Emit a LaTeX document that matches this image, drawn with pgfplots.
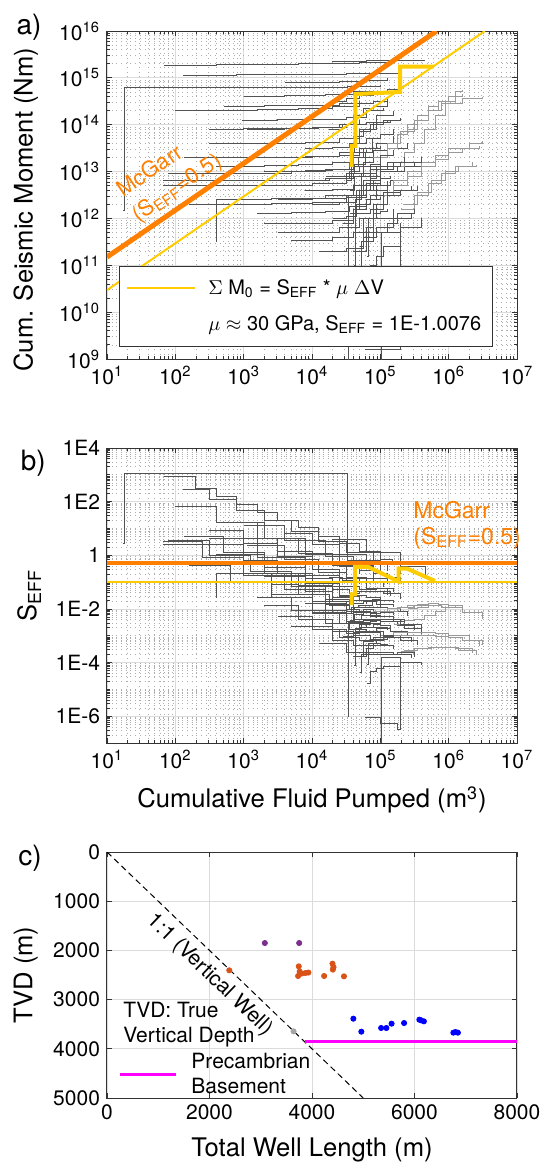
\documentclass[border=0pt]{standalone}
\usepackage{fontspec}
\setmainfont{TeX Gyre Heros}
\usepackage{pgfplots}
\usepackage{pgfplotstable}
\pgfplotsset{compat=1.18}

\definecolor{mcg}{RGB}{255,128,0}
\definecolor{yel}{RGB}{255,204,0}
\definecolor{mpurple}{RGB}{126,47,142}
\definecolor{morange}{RGB}{217,83,25}
\definecolor{mgray}{RGB}{165,165,165}
\definecolor{mmag}{RGB}{255,0,255}
\definecolor{mblue}{RGB}{0,0,255}

% ---- wells: V = cumulative volume (m3), M = cum. seismic moment (Nm), S = S_EFF
\pgfplotstableread{
V M S
17.4 1.51e12 2.88
18.2 6.31e14 1150
3.31e4 6.46e14 0.646
1e5 7.08e14 0.234
}\wA
\pgfplotstableread{
V M S
69.2 1.86e15 891
200 1.86e15 309
398 1.91e15 158
794 1.91e15 79.4
1585 1.95e15 40.7
3162 1.95e15 20.4
6310 2.0e15 10.5
1.26e4 2.0e15 5.25
2.51e4 2.04e15 2.69
5.01e4 2.09e15 1.38
1e5 2.14e15 0.708
1.51e5 2.19e15 0.479
}\wB
\pgfplotstableread{
V M S
129 1.15e15 295
316 1.15e15 120
794 1.17e15 49.0
2000 1.17e15 19.5
5010 1.20e15 7.94
1.26e4 1.20e15 3.16
3.16e4 1.23e15 1.29
7.94e4 1.26e15 0.525
2.0e5 1.26e15 0.209
}\wC
\pgfplotstableread{
V M S
1.95e4 2.29e15 3.89
6.31e4 2.34e15 1.23
2.0e5 2.40e15 0.398
4.57e5 2.40e15 0.174
}\wD
\pgfplotstableread{
V M S
513 2.51e14 16.2
2000 2.57e14 4.27
7940 2.63e14 1.10
2.51e4 2.82e14 0.372
7.94e4 3.16e14 0.132
1.26e5 3.98e14 0.105
}\wE
\pgfplotstableread{
V M S
955 1.26e14 4.37
3162 1.29e14 1.35
1e4 1.32e14 0.437
3.16e4 1.41e14 0.148
6.31e4 2.0e14 0.105
1.12e5 2.24e14 0.0661
}\wF
\pgfplotstableread{
V M S
135 2.0e13 4.90
501 2.0e13 1.32
2000 2.04e13 0.339
7940 2.09e13 0.0871
2.51e4 2.24e13 0.0295
5.01e4 3.16e13 0.0209
1e5 3.55e13 0.0117
}\wG
\pgfplotstableread{
V M S
66.1 6.31e12 3.16
251 6.31e12 0.832
1000 6.46e12 0.214
3980 6.61e12 0.0550
1.58e4 7.08e12 0.0148
3.98e4 8.91e12 7.41e-3
8.91e4 1.26e13 4.68e-3
}\wH
\pgfplotstableread{
V M S
66.1 5.01e12 2.51
1000 5.13e12 0.170
1e4 5.62e12 0.0186
3.16e4 7.94e12 8.32e-3
7.08e4 1.12e13 5.25e-3
1.58e5 1.58e13 3.31e-3
}\wI
\pgfplotstableread{
V M S
389 3.16e11 0.0269
398 2.51e12 0.209
2510 2.63e12 0.0347
1.58e4 3.16e12 6.61e-3
3.98e4 5.01e12 4.17e-3
1e5 7.94e12 2.63e-3
}\wJ
\pgfplotstableread{
V M S
3162 4.90e11 5.13e-3
1e4 5.01e11 1.66e-3
2.51e4 6.31e11 8.32e-4
5.01e4 1e12 6.61e-4
7.94e4 2.0e12 8.32e-4
1.26e5 3.98e12 1.05e-3
}\wK
\pgfplotstableread{
V M S
5010 3.47e11 2.29e-3
2.0e4 3.98e11 6.61e-4
3.98e4 5.01e11 4.17e-4
7.94e4 1e12 4.17e-4
1.58e5 1.58e12 3.31e-4
}\wL
\pgfplotstableread{
V M S
5.89e4 1.62e9 9.12e-7
1e5 1.62e9 5.37e-7
1.76e5 1.62e9 3.09e-7
2.0e5 7.94e11 1.32e-4
}\wM
\pgfplotstableread{
V M S
1e5 3.16e8 1.05e-7
1.05e5 5.01e11 1.58e-4
2.0e5 6.31e11 1.05e-4
3.98e5 1e12 8.32e-5
}\wN
\pgfplotstableread{
V M S
3.55e4 3.98e12 3.72e-3
4.17e4 7.94e12 6.31e-3
5.62e4 1.58e13 9.33e-3
7.94e4 2.0e13 8.32e-3
1.26e5 3.98e13 0.0105
2.0e5 5.01e13 8.32e-3
}\wO
\pgfplotstableread{
V M S
1e4 2.0e12 6.61e-3
2.51e4 2.24e12 2.95e-3
4.47e4 3.98e12 2.95e-3
6.31e4 5.62e12 2.95e-3
1e5 1e13 3.31e-3
1.78e5 1.26e13 2.34e-3
3.16e5 1.58e13 1.66e-3
}\wP
\pgfplotstableread{
V M S
2000 1e13 0.166
7940 1.05e13 0.0437
2.0e4 1.12e13 0.0186
3.98e4 2.0e13 0.0166
5.62e4 3.16e13 0.0186
8.91e4 3.98e13 0.0148
1.58e5 5.62e13 0.0117
}\wQ
\pgfplotstableread{
V M S
2.82e4 7.94e11 9.33e-4
3.98e4 1.58e12 1.32e-3
6.31e4 2.51e12 1.32e-3
8.91e4 5.01e12 1.86e-3
1.41e5 6.31e12 1.48e-3
2.51e5 7.94e12 1.05e-3
}\wR
\pgfplotstableread{
V M S
7940 3.16e13 0.132
2.0e4 3.31e13 0.0550
3.55e4 3.98e13 0.0372
5.01e4 7.08e13 0.0468
7.08e4 1e14 0.0468
1.12e5 1.26e14 0.0372
2.0e5 1.41e14 0.0234
}\wS
\pgfplotstableread{
V M S
5.01e4 2.51e11 1.66e-4
5.62e4 1e12 5.89e-4
7.94e4 1.58e12 6.61e-4
1.12e5 3.16e12 9.33e-4
1.58e5 3.98e12 8.32e-4
2.82e5 5.01e12 5.89e-4
}\wT
\pgfplotstableread{
V M S
1.58e4 7.94e12 0.0166
3.16e4 8.91e12 9.33e-3
4.17e4 1.41e13 0.0112
6.03e4 2.0e13 0.0110
7.94e4 2.82e13 0.0117
1.26e5 3.16e13 8.32e-3
2.51e5 3.98e13 5.25e-3
}\wU
\pgfplotstableread{
V M S
398 1.26e13 1.05
2000 1.32e13 0.219
6310 1.41e13 0.0741
2.0e4 1.58e13 0.0263
3.98e4 2.51e13 0.0209
6.31e4 2.82e13 0.0148
}\wV
\pgfplotstableread{
V M S
79.4 8.91e12 3.72
316 9.12e12 0.955
1260 9.33e12 0.245
5010 1e13 0.0661
1.58e4 1.12e13 0.0234
3.55e4 1.58e13 0.0148
}\wW
\pgfplotstableread{
V M S
1120 7.94e13 2.34
3980 8.32e13 0.692
1.26e4 8.91e13 0.234
3.16e4 1e14 0.105
6.31e4 1.12e14 0.0589
1.26e5 1.26e14 0.0331
}\wX
\pgfplotstableread{
V M S
3162 2.51e12 0.0263
1e4 2.63e12 8.71e-3
3.16e4 3.16e12 3.31e-3
5.62e4 6.31e12 3.72e-3
1e5 1e13 3.31e-3
2.24e5 1.26e13 1.86e-3
3.98e5 1.41e13 1.17e-3
}\wY
\pgfplotstableread{
V M S
1.58e5 1.26e13 2.63e-3
2.24e5 2.51e13 3.72e-3
3.16e5 3.98e13 4.17e-3
4.47e5 7.94e13 5.89e-3
6.31e5 1.58e14 8.32e-3
8.91e5 3.16e14 0.0117
1.26e6 5.01e14 0.0132
1.58e6 5.62e14 0.0117
}\wZ
\pgfplotstableread{
V M S
1e5 3.16e12 1.05e-3
1.58e5 6.31e12 1.32e-3
2.51e5 1e13 1.32e-3
3.98e5 1.58e13 1.32e-3
6.31e5 2.24e13 1.17e-3
1e6 3.16e13 1.05e-3
2.0e6 3.98e13 6.61e-4
3.16e6 4.47e13 4.68e-4
}\wAA
\pgfplotstableread{
V M S
7.94e4 2.0e13 8.32e-3
1.26e5 3.98e13 0.0105
2.0e5 7.08e13 0.0117
3.16e5 1.26e14 0.0132
5.01e5 2.0e14 0.0132
7.94e5 2.82e14 0.0117
1.58e6 3.55e14 7.41e-3
3.16e6 3.98e14 4.17e-3
}\wAB
\pgfplotstableread{
V M S
2.0e5 1.58e12 2.63e-4
3.16e5 3.16e12 3.31e-4
5.01e5 5.62e12 3.72e-4
7.94e5 8.91e12 3.72e-4
1.26e6 1.26e13 3.31e-4
2.24e6 1.58e13 2.34e-4
}\wAC
\pgfplotstableread{
V M S
2.0e4 1e12 1.66e-3
3.16e4 1.12e12 1.17e-3
4.47e4 2.0e12 1.48e-3
7.08e4 3.16e12 1.48e-3
1.12e5 3.55e12 1.05e-3
2.0e5 3.98e12 6.61e-4
}\wAD
\pgfplotstableread{
V M S
1000 3.98e14 13.2
3980 4.17e14 3.47
1.58e4 4.47e14 0.933
3.98e4 5.01e14 0.417
7.94e4 5.25e14 0.219
}\wAE
\pgfplotstableread{
V M S
2510 6.31e12 0.0832
6310 6.61e12 0.0347
1.78e4 7.08e12 0.0132
3.55e4 1e13 9.33e-3
5.01e4 1.26e13 8.32e-3
7.08e4 1.26e13 5.89e-3
1e5 1.58e13 5.25e-3
}\wAF
\pgfplotstableread{
V M S
3.98e4 2.0e11 1.66e-4
6.31e4 6.31e11 3.31e-4
7.94e4 1.26e12 5.25e-4
1e5 1.41e12 4.68e-4
1.26e5 1.58e12 4.17e-4
}\wAG
\pgfplotstableread{
V M S
316 7.94e13 8.32
1000 8.13e13 2.69
3162 8.32e13 0.871
1e4 8.91e13 0.295
2.51e4 1e14 0.132
5.01e4 1.26e14 0.0832
}\wAH
\pgfplotstableread{
V M S
3.31e4 1e9 1.0e-6
3.39e4 3.16e12 3.09e-3
6.31e4 3.98e12 2.09e-3
1.26e5 6.31e12 1.66e-3
}\wAI
\pgfplotstableread{
V M S
2.51e4 5.01e13 0.0661
3.98e4 5.62e13 0.0468
5.62e4 7.94e13 0.0468
7.94e4 1.12e14 0.0468
1.41e5 1.26e14 0.0295
}\wAJ
\pgfplotstableread{
V M S
4.47e4 1.58e12 1.17e-3
5.01e4 3.98e12 2.63e-3
7.08e4 7.94e12 3.72e-3
1e5 1.26e13 4.17e-3
2.0e5 1.58e13 2.63e-3
3.98e5 2.0e13 1.66e-3
}\wAK
\pgfplotstableread{
V M S
1585 1.26e12 0.0263
5010 1.32e12 8.71e-3
1.58e4 1.41e12 2.95e-3
3.55e4 1.78e12 1.66e-3
6.31e4 2.51e12 1.32e-3
1e5 2.82e12 9.33e-4
}\wAL
\pgfplotstableread{
V M S
316 3.98e13 4.17
1585 3.98e13 0.832
7940 4.17e13 0.174
2.51e4 5.01e13 0.0661
5.01e4 7.94e13 0.0525
8.91e4 1.58e14 0.0589
1.58e5 2.0e14 0.0417
}\wAM
\pgfplotstableread{
V M S
158 2.0e12 0.417
631 2.0e12 0.105
2510 2.09e12 0.0275
1e4 2.24e12 7.41e-3
3.16e4 2.82e12 2.95e-3
6.31e4 3.98e12 2.09e-3
}\wAN
\pgfplotstableread{
V M S
3980 7.94e14 6.61
1e4 7.94e14 2.63
2.51e4 8.32e14 1.10
6.31e4 8.91e14 0.468
1.26e5 1e15 0.263
}\wAO
\pgfplotstableread{
V M S
1.78e4 7.94e13 0.148
2.82e4 1e14 0.117
3.98e4 1.58e14 0.132
5.62e4 2.24e14 0.132
7.94e4 2.51e14 0.105
1.26e5 3.16e14 0.0832
}\wAP
\pgfplotstableread{
V M S
3.16e4 6.31e12 6.61e-3
3.80e4 1.26e13 0.0110
4.79e4 2.0e13 0.0138
6.03e4 2.51e13 0.0138
7.59e4 5.01e13 0.0219
1e5 6.31e13 0.0209
1.58e5 7.94e13 0.0166
}\wAQ
\pgfplotstableread{
V M S
4.17e4 1e11 7.94e-5
4.27e4 2.51e12 1.95e-3
5.25e4 5.01e12 3.16e-3
7.08e4 7.08e12 3.31e-3
8.91e4 1.12e13 4.17e-3
1.26e5 1.58e13 4.17e-3
2.24e5 2.0e13 2.95e-3
}\wAR
\pgfplotstableread{
V M S
6.31e4 1.58e11 8.32e-5
6.61e4 1e12 5.01e-4
8.91e4 2.0e12 7.41e-4
1.26e5 3.16e12 8.32e-4
2.0e5 3.98e12 6.61e-4
3.55e5 5.01e12 4.68e-4
}\wAS
\pgfplotstableread{
V M S
1.26e5 3.16e13 8.32e-3
1.78e5 6.31e13 0.0117
2.51e5 1e14 0.0132
3.55e5 1.58e14 0.0148
5.01e5 2.51e14 0.0166
7.08e5 3.16e14 0.0148
1e6 3.55e14 0.0117
}\wAT
\pgfplotstableread{
V M S
1.58e5 5.01e12 1.05e-3
2.51e5 7.94e12 1.05e-3
3.98e5 1.26e13 1.05e-3
6.31e5 1.78e13 9.33e-4
1e6 2.51e13 8.32e-4
1.58e6 3.16e13 6.61e-4
2.82e6 3.55e13 4.17e-4
}\wAU
\pgfplotstableread{
V M S
1000 2.0e13 0.661
3162 2.0e13 0.209
1e4 2.09e13 0.0692
2.51e4 2.51e13 0.0331
4.17e4 3.98e13 0.0316
6.31e4 5.01e13 0.0263
1e5 5.62e13 0.0186
}\wAV
\pgfplotstableread{
V M S
3.55e4 1.26e12 1.17e-3
4.47e4 2.0e12 1.48e-3
5.01e4 3.16e12 2.09e-3
6.31e4 3.98e12 2.09e-3
7.94e4 6.31e12 2.63e-3
1e5 7.08e12 2.34e-3
1.41e5 7.94e12 1.86e-3
}\wAW
\pgfplotstableread{
V M S
100 2.0e14 66.1
398 2.0e14 16.6
1585 2.09e14 4.37
6310 2.24e14 1.17
2.0e4 2.51e14 0.417
5.01e4 3.16e14 0.209
}\wAX
\pgfplotstableread{
V M S
7940 3.98e12 0.0166
2.0e4 4.17e12 6.92e-3
3.98e4 5.01e12 4.17e-3
5.25e4 8.91e12 5.62e-3
7.08e4 1.41e13 6.61e-3
1e5 2.24e13 7.41e-3
1.58e5 2.82e13 5.89e-3
}\wAY
\pgfplotstableread{
V M S
5.01e4 6.31e10 4.17e-5
5.25e4 3.16e11 2.0e-4
7.94e4 5.01e11 2.09e-4
1.26e5 7.94e11 2.09e-4
1.78e5 1.26e12 2.34e-4
3.16e5 1.58e12 1.66e-4
}\wAZ
\pgfplotstableread{
V M S
2.24e5 2.0e12 2.95e-4
3.55e5 3.55e12 3.31e-4
5.62e5 6.31e12 3.72e-4
8.91e5 1e13 3.72e-4
1.41e6 1.26e13 2.95e-4
2.51e6 1.41e13 1.86e-4
}\wBA
\pgfplotstableread{
V M S
2.0e4 3.16e14 0.525
3.16e4 3.55e14 0.372
5.01e4 4.17e14 0.275
7.94e4 5.01e14 0.209
1.26e5 5.62e14 0.148
2.0e5 6.31e14 0.105
}\wBB
\pgfplotstableread{
V M S
2000 7.94e11 0.0132
6310 7.94e11 4.17e-3
2.0e4 8.91e11 1.48e-3
3.98e4 1.26e12 1.05e-3
7.08e4 1.58e12 7.41e-4
1.12e5 2.24e12 6.61e-4
}\wBC
\pgfplotstableread{
V M S
2.51e5 7.94e13 0.0105
3.55e5 1.26e14 0.0117
5.01e5 2.0e14 0.0132
7.08e5 3.16e14 0.0148
1e6 3.98e14 0.0132
1.58e6 4.47e14 9.33e-3
}\wBD
\pgfplotstableread{
V M S
1.26e4 2.0e11 5.25e-4
3.16e4 2.24e11 2.34e-4
5.62e4 3.98e11 2.34e-4
8.91e4 6.31e11 2.34e-4
1.58e5 1e12 2.09e-4
2.82e5 1.26e12 1.48e-4
}\wBE
\pgfplotstableread{
V M S
6.31e4 3.16e10 1.66e-5
7.08e4 1e11 4.68e-5
8.91e4 1.58e11 5.89e-5
1.12e5 2.51e11 7.41e-5
2.0e5 3.16e11 5.25e-5
}\wBF

\pgfplotsset{
  base/.style={scale only axis, width=205pt, anchor=north west,
    axis line style={black!80, line width=0.5pt},
    every tick/.style={black!80, line width=0.4pt},
    tick align=inside, major tick length=2.6pt, minor tick length=1.4pt,
    xmajorgrids, ymajorgrids,
    major grid style={black!14, line width=0.4pt},
    minor grid style={black!32, line width=0.35pt, dotted},
    ticklabel style={font=\fontsize{10.5}{12}\selectfont},
    label style={font=\fontsize{12.8}{15}\selectfont},
    clip mode=individual},
  well/.style={const plot, black!68, line width=0.45pt, forget plot},
  wellL/.style={const plot, black!40, line width=0.45pt, forget plot},
  vticks/.style={xminorgrids,
    xtick={10,100,1000,1e4,1e5,1e6,1e7},
    xticklabels={10\textsuperscript{1},10\textsuperscript{2},10\textsuperscript{3},10\textsuperscript{4},10\textsuperscript{5},10\textsuperscript{6},10\textsuperscript{7}},
    minor xtick={20,30,40,50,60,70,80,90,200,300,400,500,600,700,800,900,2000,3000,4000,5000,6000,7000,8000,9000,2e4,3e4,4e4,5e4,6e4,7e4,8e4,9e4,2e5,3e5,4e5,5e5,6e5,7e5,8e5,9e5,2e6,3e6,4e6,5e6,6e6,7e6,8e6,9e6}},
}

\newcommand{\wells}[1]{%
\addplot[well] table[x=V,y=#1]{\wA};
\addplot[well] table[x=V,y=#1]{\wB};
\addplot[well] table[x=V,y=#1]{\wC};
\addplot[well] table[x=V,y=#1]{\wD};
\addplot[well] table[x=V,y=#1]{\wE};
\addplot[well] table[x=V,y=#1]{\wF};
\addplot[well] table[x=V,y=#1]{\wG};
\addplot[well] table[x=V,y=#1]{\wH};
\addplot[well] table[x=V,y=#1]{\wI};
\addplot[well] table[x=V,y=#1]{\wJ};
\addplot[well] table[x=V,y=#1]{\wK};
\addplot[well] table[x=V,y=#1]{\wL};
\addplot[well] table[x=V,y=#1]{\wM};
\addplot[well] table[x=V,y=#1]{\wN};
\addplot[well] table[x=V,y=#1]{\wO};
\addplot[well] table[x=V,y=#1]{\wP};
\addplot[well] table[x=V,y=#1]{\wQ};
\addplot[well] table[x=V,y=#1]{\wR};
\addplot[well] table[x=V,y=#1]{\wS};
\addplot[well] table[x=V,y=#1]{\wT};
\addplot[well] table[x=V,y=#1]{\wU};
\addplot[well] table[x=V,y=#1]{\wV};
\addplot[well] table[x=V,y=#1]{\wW};
\addplot[well] table[x=V,y=#1]{\wX};
\addplot[well] table[x=V,y=#1]{\wY};
\addplot[wellL] table[x=V,y=#1]{\wZ};
\addplot[wellL] table[x=V,y=#1]{\wAA};
\addplot[wellL] table[x=V,y=#1]{\wAB};
\addplot[wellL] table[x=V,y=#1]{\wAC};
\addplot[well] table[x=V,y=#1]{\wAD};
\addplot[well] table[x=V,y=#1]{\wAE};
\addplot[well] table[x=V,y=#1]{\wAF};
\addplot[well] table[x=V,y=#1]{\wAG};
\addplot[well] table[x=V,y=#1]{\wAH};
\addplot[well] table[x=V,y=#1]{\wAI};
\addplot[well] table[x=V,y=#1]{\wAJ};
\addplot[well] table[x=V,y=#1]{\wAK};
\addplot[well] table[x=V,y=#1]{\wAL};
\addplot[well] table[x=V,y=#1]{\wAM};
\addplot[well] table[x=V,y=#1]{\wAN};
\addplot[well] table[x=V,y=#1]{\wAO};
\addplot[well] table[x=V,y=#1]{\wAP};
\addplot[well] table[x=V,y=#1]{\wAQ};
\addplot[well] table[x=V,y=#1]{\wAR};
\addplot[well] table[x=V,y=#1]{\wAS};
\addplot[wellL] table[x=V,y=#1]{\wAT};
\addplot[wellL] table[x=V,y=#1]{\wAU};
\addplot[well] table[x=V,y=#1]{\wAV};
\addplot[well] table[x=V,y=#1]{\wAW};
\addplot[well] table[x=V,y=#1]{\wAX};
\addplot[well] table[x=V,y=#1]{\wAY};
\addplot[well] table[x=V,y=#1]{\wAZ};
\addplot[wellL] table[x=V,y=#1]{\wBA};
\addplot[well] table[x=V,y=#1]{\wBB};
\addplot[well] table[x=V,y=#1]{\wBC};
\addplot[wellL] table[x=V,y=#1]{\wBD};
\addplot[well] table[x=V,y=#1]{\wBE};
\addplot[well] table[x=V,y=#1]{\wBF};
}

\begin{document}
\begin{tikzpicture}
\useasboundingbox (0,0) rectangle (272.5pt,-582pt);

% ================= a)
\begin{axis}[xmode=log, ymode=log, base, vticks, at={(53.5pt,-15.5pt)}, height=164pt,
  xmin=10, xmax=1e7, ymin=1e9, ymax=1e16, yminorgrids,
  ytick={1e9,1e10,1e11,1e12,1e13,1e14,1e15,1e16},
  yticklabels={10\textsuperscript{9},10\textsuperscript{10},10\textsuperscript{11},10\textsuperscript{12},10\textsuperscript{13},10\textsuperscript{14},10\textsuperscript{15},10\textsuperscript{16}},
  minor ytick={2e9,3e9,4e9,5e9,6e9,7e9,8e9,9e9,2e10,3e10,4e10,5e10,6e10,7e10,8e10,9e10,2e11,3e11,4e11,5e11,6e11,7e11,8e11,9e11,2e12,3e12,4e12,5e12,6e12,7e12,8e12,9e12,2e13,3e13,4e13,5e13,6e13,7e13,8e13,9e13,2e14,3e14,4e14,5e14,6e14,7e14,8e14,9e14,2e15,3e15,4e15,5e15,6e15,7e15,8e15,9e15},
  ylabel={Cum. Seismic Moment (Nm)},
  ylabel style={at={(axis description cs:-0.198,0.455)}, anchor=center},
  legend style={at={(0.029,0.2835)}, anchor=north west, draw=black!80, fill=white,
    inner xsep=3.5pt, inner ysep=4.5pt, row sep=5pt, column sep=4pt,
    font=\fontsize{10}{12}\selectfont, cells={anchor=west}},
  legend image code/.code={\draw[#1] (0pt,0pt)--(34pt,0pt);},
]
\wells{M}
% McGarr (S_EFF = 0.5, mu = 30 GPa)
\addplot[mcg, line width=2.5pt, forget plot] coordinates {(10,1.5e11) (6.67e5,1e16)};
% fitted S_EFF = 10^-1.0076
\addplot[yel, line width=1pt] coordinates {(10,2.95e10) (3.39e6,1e16)};
\addlegendentry{$\Sigma$ M\textsubscript{0} = S\textsubscript{EFF} * $\mu$ $\Delta$V}
\addlegendimage{empty legend}
\addlegendentry{$\mu\approx$ 30 GPa, S\textsubscript{EFF} = 1E-1.0076}
% highlighted well
\addplot[yel, line width=2pt, forget plot] coordinates {(3.8e4,1.26e13) (3.8e4,3.5e13) (4.3e4,3.5e13) (4.3e4,4.5e14) (1.95e5,5.0e14) (1.95e5,1.74e15) (6.0e5,1.74e15)};
\node[mcg, rotate=34.4, font=\fontsize{11}{13}\selectfont] at (axis cs:41.7,1.07e13) {McGarr};
\node[mcg, rotate=34.4, font=\fontsize{11}{13}\selectfont] at (axis cs:107,4.37e12) {(S\textsubscript{EFF}=0.5)};
\node[font=\fontsize{14}{16}\selectfont] at (axis description cs:-0.19,1.012) {a)};
\end{axis}

% ================= b)
\begin{axis}[xmode=log, ymode=log, base, vticks, at={(53.5pt,-224pt)}, height=147.5pt,
  xmin=10, xmax=1e7, ymin=1e-7, ymax=1e4, yminorgrids,
  ytick={1e-6,1e-4,1e-2,1,1e2,1e4},
  yticklabels={1E-6,1E-4,1E-2,1,1E2,1E4},
  minor ytick={2e-7,3e-7,4e-7,5e-7,6e-7,7e-7,8e-7,9e-7,2e-6,3e-6,4e-6,5e-6,6e-6,7e-6,8e-6,9e-6,1e-5,2e-5,3e-5,4e-5,5e-5,6e-5,7e-5,8e-5,9e-5,2e-4,3e-4,4e-4,5e-4,6e-4,7e-4,8e-4,9e-4,1e-3,2e-3,3e-3,4e-3,5e-3,6e-3,7e-3,8e-3,9e-3,0.02,0.03,0.04,0.05,0.06,0.07,0.08,0.09,0.1,0.2,0.3,0.4,0.5,0.6,0.7,0.8,0.9,2,3,4,5,6,7,8,9,10,20,30,40,50,60,70,80,90,200,300,400,500,600,700,800,900,1000,2000,3000,4000,5000,6000,7000,8000,9000},
  xlabel={Cumulative Fluid Pumped (m\textsuperscript{3})},
  xlabel style={at={(axis description cs:0.5,-0.193)}, anchor=center},
  ylabel={S\textsubscript{EFF}},
  ylabel style={at={(axis description cs:-0.19,0.5)}, anchor=center},
]
\wells{S}
\addplot[mcg, line width=2pt, forget plot] coordinates {(10,0.5) (1e7,0.5)};
\addplot[yel, line width=1pt, forget plot] coordinates {(10,0.0983) (1e7,0.0983)};
\addplot[yel, line width=2pt, forget plot] coordinates {(3.8e4,0.0138) (3.8e4,0.035) (4.27e4,0.035) (4.27e4,0.37) (6.6e4,0.37) (1.86e5,0.105) (1.86e5,0.32) (2.45e5,0.32) (6.3e5,0.11)};
\node[mcg, anchor=west, font=\fontsize{11.5}{13}\selectfont] at (axis cs:2.4e5,49) {McGarr};
\node[mcg, anchor=west, font=\fontsize{11.5}{13}\selectfont] at (axis cs:2.4e5,4.4) {(S\textsubscript{EFF}=0.5)};
\node[font=\fontsize{14}{16}\selectfont] at (axis description cs:-0.18,0.949) {b)};
\end{axis}

% ================= c)
\begin{axis}[base, at={(53.5pt,-426pt)}, height=123pt,
  xmin=0, xmax=8000, ymin=0, ymax=5000, y dir=reverse,
  xtick={0,2000,4000,6000,8000}, xticklabels={0,2000,4000,6000,8000},
  ytick={0,1000,2000,3000,4000,5000}, yticklabels={0,1000,2000,3000,4000,5000},
  xlabel={Total Well Length (m)},
  xlabel style={at={(axis description cs:0.5,-0.211)}, anchor=center},
  ylabel={TVD (m)},
  ylabel style={at={(axis description cs:-0.198,0.5)}, anchor=center},
  legend style={at={(0.027,0.0955)}, anchor=west, draw=none, fill=none,
    inner sep=0pt, column sep=5pt,
    font=\fontsize{10.5}{12.5}\selectfont, cells={anchor=west, align=left}},
  legend image code/.code={\draw[#1] (0pt,0pt)--(28pt,0pt);},
]
\addplot[black, dash pattern=on 3pt off 2pt, line width=0.5pt, forget plot] coordinates {(0,0) (5000,5000)};
\addplot[only marks, mark=*, mark size=1.3pt, color=mpurple, forget plot] coordinates {(3080,1850) (3750,1850)};
\addplot[only marks, mark=*, mark size=1.3pt, color=morange, forget plot] coordinates {(2386,2405) (3742,2324) (3729,2520) (3760,2430) (3800,2470) (3870,2460) (3930,2450) (4237,2520) (4400,2270) (4420,2340) (4407,2390) (4624,2527)};
\addplot[only marks, mark=*, mark size=1.3pt, color=mgray, forget plot] coordinates {(3640,3645)};
\addplot[only marks, mark=*, mark size=1.3pt, color=mblue, forget plot] coordinates {(4807,3388) (4963,3652) (5349,3577) (5451,3577) (5553,3489) (5797,3476) (6095,3408) (6129,3421) (6183,3442) (6759,3672) (6800,3659) (6847,3672)};
\addplot[mmag, line width=1.5pt] coordinates {(3864,3860) (8000,3860)};
\addlegendentry{Precambrian\\Basement}
\node[rotate=-43.8, font=\fontsize{10.5}{12}\selectfont] at (axis cs:2010,2500) {1:1 (Vertical Well)};
\node[anchor=west, align=left, font=\fontsize{10.5}{12.5}\selectfont] at (axis cs:180,3518) {TVD: True\\Vertical Depth};
\node[font=\fontsize{14}{16}\selectfont] at (axis description cs:-0.188,0.976) {c)};
\end{axis}
\end{tikzpicture}
\end{document}
